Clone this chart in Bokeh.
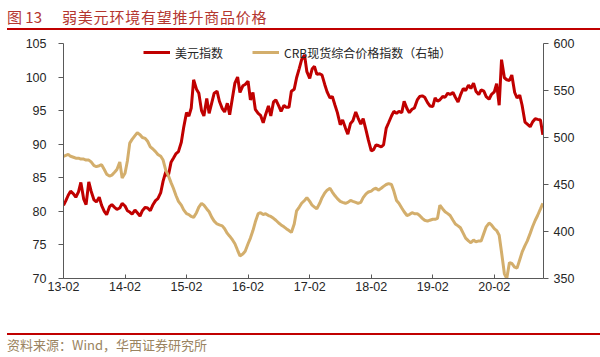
import pandas as pd
from datetime import datetime
from bokeh.plotting import figure
from bokeh.layouts import column
from bokeh.models import (Range1d, LinearAxis, FixedTicker, DatetimeTickFormatter,
                          Legend, LegendItem, ColumnDataSource, Div)
from bokeh.embed import file_html
from bokeh.resources import INLINE

# ---------------- data ----------------
title_num = "图 13"
title_main = "弱美元环境有望推升商品价格"
source_text = "资料来源：Wind，华西证券研究所"
series_names = ["美元指数", "CRB现货综合价格指数（右轴）"]
tick_labels = ["13-02", "14-02", "15-02", "16-02", "17-02", "18-02", "19-02", "20-02"]
left_ticks = [70, 75, 80, 85, 90, 95, 100, 105]
right_ticks = [350, 400, 450, 500, 550, 600]

# semi-monthly readings (1st and 15th of each month), Feb 2013 - Nov 2020
dxy_2013 = [80.9, 81.6, 82.4, 83.0, 82.6, 82.1, 82.9, 84.3, 81.8, 81.0, 84.4, 83.0,
            81.7, 81.4, 82.1, 80.9, 80.0, 79.5, 80.7, 81.0, 80.6, 80.3]
dxy_2014 = [80.5, 81.2, 80.8, 80.1, 79.9, 79.6, 80.2, 79.8, 79.3, 80.1, 80.6, 80.5,
            80.1, 80.9, 81.6, 81.9, 82.8, 84.5, 85.9, 85.2, 87.3, 87.9, 88.6, 88.9]
dxy_2015 = [90.3, 92.5, 94.7, 94.2, 95.4, 99.6, 98.2, 97.6, 95.0, 94.2, 96.8, 94.6,
            96.2, 97.6, 97.9, 96.4, 95.3, 94.8, 96.1, 94.4, 97.0, 99.1, 100.0, 97.7]
dxy_2016 = [98.7, 98.9, 99.4, 96.6, 97.7, 95.2, 94.6, 94.3, 93.2, 94.4, 95.7, 94.2,
            96.3, 96.6, 95.7, 94.9, 95.8, 95.5, 95.5, 97.9, 98.2, 99.9, 101.3, 102.6]
dxy_2017 = [103.3, 100.8, 99.8, 101.2, 101.6, 100.4, 100.5, 100.3, 98.9, 97.8, 96.9, 97.1,
            95.8, 94.7, 92.9, 93.6, 92.4, 91.5, 93.1, 93.5, 94.8, 93.9, 93.0, 93.8]
dxy_2018 = [92.1, 90.6, 89.0, 89.2, 89.9, 89.8, 89.6, 89.9, 92.4, 93.2, 94.2, 94.9,
            94.6, 94.9, 94.7, 96.4, 95.3, 94.7, 95.2, 95.4, 96.6, 97.1, 97.2, 97.0]
dxy_2019 = [96.2, 95.7, 95.6, 96.9, 96.4, 96.6, 97.1, 97.0, 97.6, 97.4, 97.7, 97.0,
            96.3, 97.3, 98.3, 98.0, 98.8, 98.3, 99.1, 97.9, 97.4, 98.1, 97.9, 97.1]
dxy_2020 = [96.7, 97.4, 97.8, 99.0, 95.8, 102.6, 99.9, 99.6, 99.5, 100.3, 97.7, 96.9,
            97.3, 95.8, 93.3, 93.0, 92.6, 93.3, 93.8, 93.7, 93.6, 91.4]

crb_2013 = [480, 481, 482, 480, 479, 478, 478, 477, 477, 476, 476, 474,
            470, 469, 470, 471, 466, 461, 459, 460, 463, 466]
crb_2014 = [474, 457, 462, 475, 494, 498, 502, 505, 503, 500, 499, 496,
            490, 488, 485, 482, 480, 476, 465, 460, 452, 446, 438, 432]
crb_2015 = [428, 423, 419, 418, 416, 415, 420, 426, 430, 428, 424, 421,
            415, 411, 408, 407, 406, 403, 398, 395, 391, 387, 380, 374]
crb_2016 = [376, 379, 387, 393, 401, 410, 419, 420, 418, 419, 417, 416,
            414, 412, 409, 407, 405, 403, 401, 399, 408, 422, 426, 430]
crb_2017 = [433, 436, 432, 428, 426, 424, 430, 436, 441, 444, 446, 442,
            438, 435, 432, 431, 430, 431, 433, 432, 431, 430, 431, 436]
crb_2018 = [440, 442, 443, 445, 446, 444, 446, 448, 450, 451, 450, 443,
            433, 430, 425, 421, 417, 418, 420, 419, 419, 417, 414, 412]
crb_2019 = [411, 412, 413, 413, 414, 428, 424, 421, 419, 417, 412, 408,
            406, 404, 398, 393, 390, 388, 391, 389, 390, 390, 398, 405]
crb_2020 = [409, 407, 403, 401, 396, 378, 355, 350, 367, 366, 362, 361,
            370, 378, 385, 390, 398, 405, 412, 417, 424, 430]

dates = pd.date_range("2013-02-01", "2020-11-15", freq="SMS")
dxy = dxy_2013 + dxy_2014 + dxy_2015 + dxy_2016 + dxy_2017 + dxy_2018 + dxy_2019 + dxy_2020
crb = crb_2013 + crb_2014 + crb_2015 + crb_2016 + crb_2017 + crb_2018 + crb_2019 + crb_2020
src = ColumnDataSource(dict(date=dates, dxy=dxy, crb=crb))

# ---------------- styling ----------------
RED = "#C00000"
TAN = "#D3AE6C"
AXIS = "#595959"
TXT = "#262626"
CJK = "Noto Sans CJK SC"
NUM = "Liberation Sans"

W = 600
TH, FTH = 30, 24           # title / footer strip heights
H = 303                    # figure height
BL, BR, BT, BB = 63, 57, 13, 55
FH = H - BT - BB

p = figure(width=W, height=H, output_backend="svg", toolbar_location=None,
           x_axis_type="datetime",
           x_range=Range1d(datetime(2013, 2, 1), datetime(2020, 11, 19)),
           y_range=Range1d(left_ticks[0], left_ticks[-1]),
           min_border_left=BL, min_border_right=BR, min_border_top=BT, min_border_bottom=BB,
           margin=(0, 0, 0, 0))
p.outline_line_color = None
p.grid.visible = False
p.extra_y_ranges = {"crb": Range1d(right_ticks[0], right_ticks[-1])}

tick_dates = [datetime(2000 + int(t[:2]), int(t[3:]), 1) for t in tick_labels]
xa = p.xaxis[0]
xa.ticker = FixedTicker(ticks=[d.timestamp() * 1000 for d in tick_dates])
fmt = "%y-%m"
xa.formatter = DatetimeTickFormatter(years=fmt, months=fmt, days=fmt, hours=fmt,
                                     minutes=fmt, seconds=fmt, milliseconds=fmt)
xa.major_tick_in = 4
xa.major_tick_out = 0
xa.minor_tick_line_color = None
xa.major_label_standoff = 3

ya = p.yaxis[0]
ya.ticker = FixedTicker(ticks=left_ticks)
ya.major_tick_in = 0
ya.major_tick_out = 5
ya.minor_tick_line_color = None
ya.major_label_standoff = 12

ra = LinearAxis(y_range_name="crb", ticker=FixedTicker(ticks=right_ticks))
ra.major_tick_in = 0
ra.major_tick_out = 5
ra.minor_tick_line_color = None
ra.major_label_standoff = 5
p.add_layout(ra, "right")

for ax in [xa, ya, ra]:
    ax.axis_line_color = AXIS
    ax.major_tick_line_color = AXIS
    ax.major_label_text_color = TXT
    ax.major_label_text_font = NUM
    ax.major_label_text_font_size = "12.5px"
    ax.axis_line_width = 1

r1 = p.line("date", "dxy", source=src, color=RED, line_width=3)
r2 = p.line("date", "crb", source=src, color=TAN, line_width=3, y_range_name="crb")

legend = Legend(items=[LegendItem(label=series_names[0], renderers=[r1]),
                       LegendItem(label=series_names[1], renderers=[r2])],
                orientation="horizontal", location=(80, FH - 18),
                padding=0, margin=0, spacing=29, glyph_width=27, glyph_height=18,
                label_height=18, label_standoff=5,
                label_text_font=CJK, label_text_font_size="12px", label_text_color=TXT,
                background_fill_alpha=0, border_line_color=None)
p.add_layout(legend, "center")

title_div = Div(width=W, height=TH, margin=(0, 0, 0, 0), text=(
    f"<div style='box-sizing:border-box;width:{W - 7}px;height:{TH}px;margin-left:7px;"
    f"border-bottom:2px solid {RED};font-family:\"{CJK}\";font-size:15px;"
    f"line-height:20px;padding-top:7px;color:#B4362F;white-space:nowrap'>"
    f"{title_num}<span style='margin-left:20px;letter-spacing:0.8px'>{title_main}</span></div>"))

footer_div = Div(width=W, height=FTH, margin=(0, 0, 0, 0), text=(
    f"<div style='box-sizing:border-box;width:{W - 7}px;height:{FTH}px;margin-left:7px;"
    f"border-top:2px solid {RED};font-family:\"{CJK}\";font-size:13px;"
    f"line-height:16px;padding-top:2px;color:#9A8360;white-space:nowrap'>{source_text}</div>"))

layout = column(title_div, p, footer_div, spacing=0, margin=(0, 0, 0, 0))

open("out.html", "w").write(file_html(layout, INLINE))
